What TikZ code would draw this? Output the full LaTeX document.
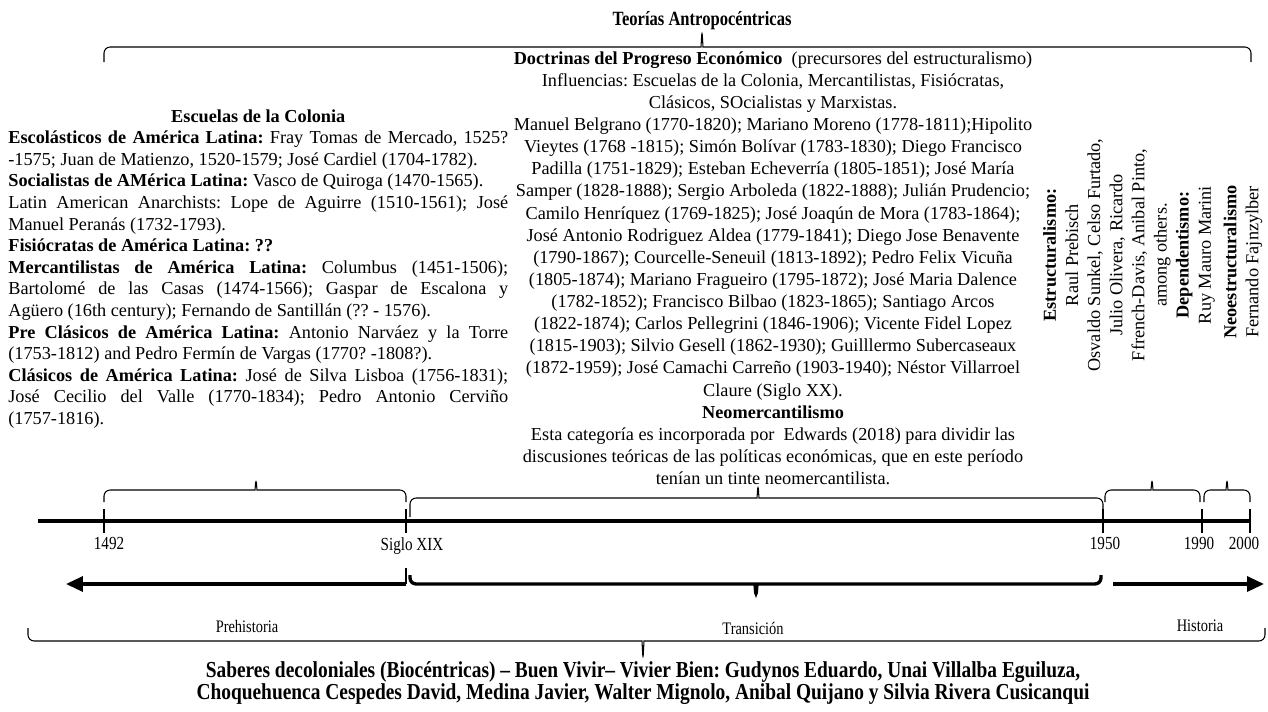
\documentclass[tikz,border=0pt]{standalone}
\usepackage{fontspec}
\setmainfont{Liberation Serif}
\newfontfamily\narrowfont[FakeStretch=0.82]{Liberation Serif}
\newfontfamily\halfnarrowfont[FakeStretch=0.85]{Liberation Serif}
\usetikzlibrary{arrows.meta}
\frenchspacing

% justified line of the left column
\newcommand{\jline}[1]{\makebox[10cm][s]{#1}}
% word style brace: [options] left x, right x, tip x, end y, bar y, tip y
\newcommand{\wbrace}[7][]{%
  \draw[braceline,#1] (#2,#5) -- (#2,#6) -- (#4-7,#6)
    .. controls (#4-1,#6) .. (#4,#7) .. controls (#4+1,#6) .. (#4+7,#6)
    -- (#3,#6) -- (#3,#5);}

\begin{document}
\begin{tikzpicture}[x=0.02cm,y=0.02cm,
  every node/.style={inner sep=0pt},
  bodytext/.style={font=\fontsize{10.4}{12.6}\selectfont,align=center},
  headtext/.style={font=\narrowfont\bfseries\fontsize{11.5}{12.6}\selectfont,align=center},
  foottext/.style={font=\halfnarrowfont\bfseries\fontsize{13}{12.6}\selectfont,align=center},
  yearlabel/.style={font=\narrowfont\fontsize{10.5}{12}\selectfont,anchor=north},
  eralabel/.style={font=\narrowfont\fontsize{10}{12}\selectfont},
  braceline/.style={line width=0.6pt,rounded corners=3.5pt},
  timeline/.style={line width=2.8pt},
  tickline/.style={line width=1.4pt},
  arrowline/.style={line width=1.9pt,-{Triangle[length=0.34cm,width=0.3cm]}}]

  \fill[white] (0,0) rectangle (1268,-711);
  \useasboundingbox (0,0) rectangle (1268,-711);

  % top
  \node[headtext] (title) at (702,-21) {Teorías Antropocéntricas};
  \wbrace{104}{1251}{702}{-62}{-47}{-30}

  \node[bodytext,anchor=north] (doctrinas) at (773,-51) {%
    \textbf{Doctrinas del Progreso Económico}\ \ (precursores del estructuralismo)\\
    Influencias: Escuelas de la Colonia, Mercantilistas, Fisiócratas,\\
    Clásicos, SOcialistas y Marxistas.\\
    Manuel Belgrano (1770-1820); Mariano Moreno (1778-1811);Hipolito\\
    Vieytes (1768 -1815); Simón Bolívar (1783-1830); Diego Francisco\\
    Padilla (1751-1829); Esteban Echeverría (1805-1851); José María\\
    Samper (1828-1888); Sergio Arboleda (1822-1888); Julián Prudencio;\\
    Camilo Henríquez (1769-1825); José Joaqún de Mora (1783-1864);\\
    José Antonio Rodriguez Aldea (1779-1841); Diego Jose Benavente\\
    (1790-1867); Courcelle-Seneuil (1813-1892); Pedro Felix Vicuña\\
    (1805-1874); Mariano Fragueiro (1795-1872); José Maria Dalence\\
    (1782-1852); Francisco Bilbao (1823-1865); Santiago Arcos\\
    (1822-1874); Carlos Pellegrini (1846-1906); Vicente Fidel Lopez\\
    (1815-1903); Silvio Gesell (1862-1930); Guilllermo Subercaseaux\\
    (1872-1959); José Camachi Carreño (1903-1940); Néstor Villarroel\\
    Claure (Siglo XX).\\
    \textbf{Neomercantilismo}\\
    Esta categoría es incorporada por\ \ Edwards (2018) para dividir las\\
    discusiones teóricas de las políticas económicas, que en este período\\
    tenían un tinte neomercantilista.};

  \node[font=\fontsize{10.4}{12.3}\selectfont,align=left,anchor=north west] (colonia) at (8,-109) {%
    \makebox[10cm]{\textbf{Escuelas de la Colonia}}\\
    \jline{\textbf{Escolásticos de América Latina:} Fray Tomas de Mercado, 1525?}\\
    -1575; Juan de Matienzo, 1520-1579; José Cardiel (1704-1782).\\
    \textbf{Socialistas de AMérica Latina:} Vasco de Quiroga (1470-1565).\\
    \jline{Latin American Anarchists: Lope de Aguirre (1510-1561); José}\\
    Manuel Peranás (1732-1793).\\
    \textbf{Fisiócratas de América Latina: ??}\\
    \jline{\textbf{Mercantilistas de América Latina:} Columbus (1451-1506);}\\
    \jline{Bartolomé de las Casas (1474-1566); Gaspar de Escalona y}\\
    Agüero (16th century); Fernando de Santillán (?? - 1576).\\
    \jline{\textbf{Pre Clásicos de América Latina:} Antonio Narváez y la Torre}\\
    (1753-1812) and Pedro Fermín de Vargas (1770? -1808?).\\
    \jline{\textbf{Clásicos de América Latina:} José de Silva Lisboa (1756-1831);}\\
    \jline{José Cecilio del Valle (1770-1834); Pedro Antonio Cerviño}\\
    (1757-1816).};

  \node[bodytext,rotate=90] (estruct) at (1129,-255) {%
    \textbf{Estructuralismo:}\\
    Raul Prebisch\\
    Osvaldo Sunkel, Celso Furtado,\\
    Julio Olivera, Ricardo\\
    Ffrench-Davis, Anibal Pinto,\\
    among others.\\
    \textbf{Dependentismo:}\\
    Ruy Mauro Marini};
  \node[bodytext,rotate=90] (neoestruct) at (1243,-262) {%
    \textbf{Neoestructuralismo}\\
    Fernando Fajnzylber};

  % timeline
  \coordinate (start) at (38,-521);
  \coordinate (y1492) at (104,-521);
  \coordinate (sxix) at (406,-521);
  \coordinate (y1950) at (1103,-521);
  \coordinate (y1990) at (1202,-521);
  \coordinate (y2000) at (1250,-521);
  \draw[timeline] (start) -- (y2000);
  \foreach \c in {y1492,sxix,y1950,y1990,y2000}
    \draw[tickline] ([yshift=0.24cm]\c) -- ([yshift=-0.24cm]\c);

  \node[yearlabel] (l1492) at (109,-537) {1492};
  \node[yearlabel] (lsxix) at (412,-537) {Siglo XIX};
  \node[yearlabel] (l1950) at (1105,-537) {1950};
  \node[yearlabel] (l1990) at (1199,-537) {1990};
  \node[yearlabel] (l2000) at (1244,-537) {2000};

  \wbrace{104}{406}{256}{-502}{-490}{-478}
  \wbrace{410}{1103}{758}{-517}{-498}{-484}
  \wbrace{1105}{1200}{1152}{-502}{-490}{-478}
  \wbrace{1204}{1250}{1227}{-502}{-490}{-478}

  % eras
  \coordinate (leftend) at (406,-584);
  \coordinate (lefttip) at (66,-584);
  \coordinate (rightstart) at (1113,-584);
  \coordinate (righttip) at (1264,-584);
  \draw[arrowline] (leftend) -- (lefttip);
  \draw[tickline] (leftend) -- ++(0,16);
  \draw[arrowline] (rightstart) -- (righttip);
  \wbrace[line width=1.9pt]{410}{1101}{756}{-575}{-584}{-597}

  \node[eralabel] (prehist) at (247,-626) {Prehistoria};
  \node[eralabel] (transic) at (753,-628) {Transición};
  \node[eralabel] (hist) at (1200,-626) {Historia};

  \wbrace{28}{1265}{643}{-628}{-641}{-660}

  \node[foottext] (saberes) at (643,-683) {%
    Saberes decoloniales (Biocéntricas) – Buen Vivir– Vivier Bien: Gudynos Eduardo, Unai Villalba Eguiluza,\\
    Choquehuenca Cespedes David, Medina Javier, Walter Mignolo, Anibal Quijano y Silvia Rivera Cusicanqui};
\end{tikzpicture}
\end{document}
